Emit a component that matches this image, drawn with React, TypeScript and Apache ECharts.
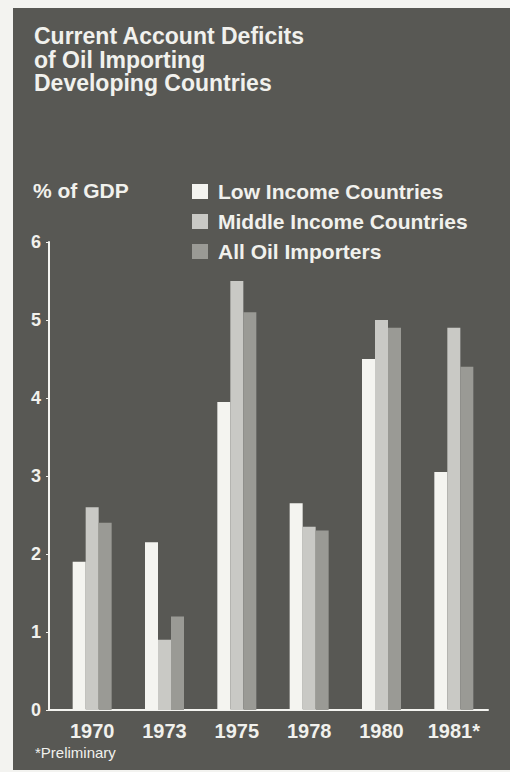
import React, { useEffect, useRef } from "react";
import * as echarts from "echarts";

const categories = ["1970", "1973", "1975", "1978", "1980", "1981*"];
const lowIncome = [1.9, 2.15, 3.95, 2.65, 4.5, 3.05];
const middleIncome = [2.6, 0.9, 5.5, 2.35, 5.0, 4.9];
const allImporters = [2.4, 1.2, 5.1, 2.3, 4.9, 4.4];
const seriesNames = ["Low Income Countries", "Middle Income Countries", "All Oil Importers"];
const titleLines = ["Current Account Deficits", "of Oil Importing", "Developing Countries"];
const yUnit = "% of GDP";
const footnote = "*Preliminary";

const FONT = "'Liberation Sans', Arial, Helvetica, sans-serif";
const TEXT = "#f1f1ed";
const colors = ["#f4f4f0", "#c9c9c5", "#9a9a95"];

export default function App() {
  const ref = useRef<HTMLDivElement>(null);
  useEffect(() => {
    if (!ref.current) return;
    const chart = echarts.init(ref.current, undefined, { renderer: "svg" });
    const values = [lowIncome, middleIncome, allImporters];
    chart.setOption({
      animation: false,
      backgroundColor: "#f3f3f0",
      textStyle: { fontFamily: FONT },
      graphic: {
        elements: [
          {
            type: "rect",
            z: -100,
            silent: true,
            shape: { x: 13, y: 8, width: 497, height: 762 },
            style: { fill: "#585854" },
          },
          ...titleLines.map((t, i) => ({
            type: "text",
            x: 34,
            y: 36 + i * 23.5,
            style: {
              text: t,
              fill: TEXT,
              font: `bold 23px ${FONT}`,
              verticalAlign: "middle",
              align: "left",
            },
          })),
          {
            type: "text",
            x: 33,
            y: 190,
            style: { text: yUnit, fill: TEXT, font: `bold 21px ${FONT}`, verticalAlign: "middle" },
          },
          {
            type: "text",
            x: 35,
            y: 752,
            style: { text: footnote, fill: TEXT, font: `15px ${FONT}`, verticalAlign: "middle" },
          },
        ],
      },
      legend: {
        orient: "vertical",
        left: 187,
        top: 176,
        itemWidth: 16,
        itemHeight: 15,
        itemGap: 9,
        icon: "rect",
        data: seriesNames,
        textStyle: {
          color: TEXT,
          fontSize: 21,
          fontWeight: "bold",
          fontFamily: FONT,
          padding: [0, 0, 0, 5],
        },
      },
      grid: [
        { left: 56, right: 20, top: 242, bottom: 62 },
        { left: 49, right: 22, top: 242, bottom: 62 },
      ],
      xAxis: [
        {
          type: "category",
          gridIndex: 0,
          data: categories,
          axisLine: { show: false },
          axisTick: { show: false },
          axisLabel: {
            color: TEXT,
            fontSize: 20,
            fontWeight: "bold",
            fontFamily: FONT,
            margin: 11,
          },
        },
        {
          type: "value",
          gridIndex: 1,
          min: 0,
          max: 1,
          axisLine: { show: true, lineStyle: { color: "#f4f4f0", width: 2 } },
          axisTick: { show: false },
          axisLabel: { show: false },
          splitLine: { show: false },
        },
      ],
      yAxis: [
        { type: "value", gridIndex: 0, min: 0, max: 6, interval: 1, show: false },
        {
          type: "value",
          gridIndex: 1,
          min: 0,
          max: 6,
          interval: 1,
          axisLine: { show: true, lineStyle: { color: "#f4f4f0", width: 2 } },
          axisTick: { show: true, length: 3, lineStyle: { color: "#f4f4f0", width: 1 } },
          axisLabel: {
            color: TEXT,
            fontSize: 18,
            fontWeight: "bold",
            fontFamily: FONT,
            margin: 8,
          },
          splitLine: { show: false },
        },
      ],
      series: seriesNames.map((name, i) => ({
        name,
        type: "bar",
        xAxisIndex: 0,
        yAxisIndex: 0,
        data: values[i],
        barWidth: 13,
        barGap: "0%",
        itemStyle: { color: colors[i] },
      })),
    });
    return () => chart.dispose();
  }, []);
  return (
    <div
      ref={ref}
      style={{ position: "absolute", left: 0, top: 0, width: 510, height: 772 }}
    />
  );
}
